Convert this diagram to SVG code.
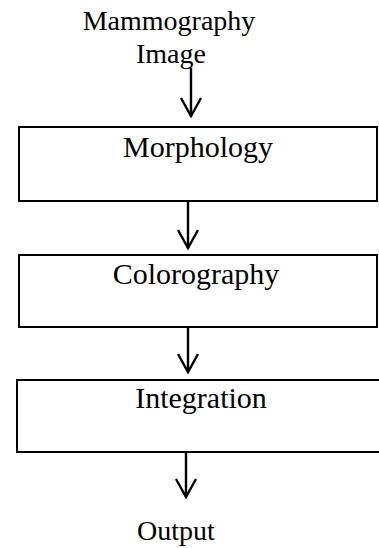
<svg xmlns="http://www.w3.org/2000/svg" width="379" height="548" viewBox="0 0 379 548">
<style>
  .box { fill: #ffffff; stroke: #000000; stroke-width: 2; }
  .lbl { font-family: "Liberation Serif", "Times New Roman", serif; fill: #000000; text-anchor: middle; }
  .big { font-size: 30px; }
  .ext { font-size: 28px; }
  .conn { stroke: #000000; stroke-width: 2.4; fill: none; }
</style>
<defs>
  <marker id="vhead" markerUnits="userSpaceOnUse" markerWidth="24" markerHeight="24" viewBox="-12 -20 24 24" refX="0" refY="0" orient="auto-start-reverse" overflow="visible">
    <path d="M -10 -18 L 0 0 L 10 -18" fill="none" stroke="#000000" stroke-width="2.4" transform="rotate(-90)"/>
  </marker>
</defs>
<rect width="379" height="548" fill="#ffffff"/>
<g id="input">
  <text class="lbl ext" x="169" y="30">Mammography</text>
  <text class="lbl ext" x="171" y="63">Image</text>
</g>
<g id="morphology">
  <rect class="box" x="19" y="127" width="358" height="74"/>
  <text class="lbl big" x="198" y="157">Morphology</text>
</g>
<g id="colorography">
  <rect class="box" x="19" y="255" width="358" height="72"/>
  <text class="lbl big" x="196" y="284">Colorography</text>
</g>
<g id="integration">
  <rect class="box" x="17" y="380" width="370" height="72"/>
  <text class="lbl big" x="201" y="408">Integration</text>
</g>
<g id="output">
  <text class="lbl ext" x="176" y="540">Output</text>
</g>
<g id="connectors">
  <line class="conn" x1="191" y1="68" x2="191" y2="116" marker-end="url(#vhead)"/>
  <line class="conn" x1="188" y1="202" x2="188" y2="248" marker-end="url(#vhead)"/>
  <line class="conn" x1="188" y1="328" x2="188" y2="372" marker-end="url(#vhead)"/>
  <line class="conn" x1="186" y1="453" x2="186" y2="497" marker-end="url(#vhead)"/>
</g>
</svg>
